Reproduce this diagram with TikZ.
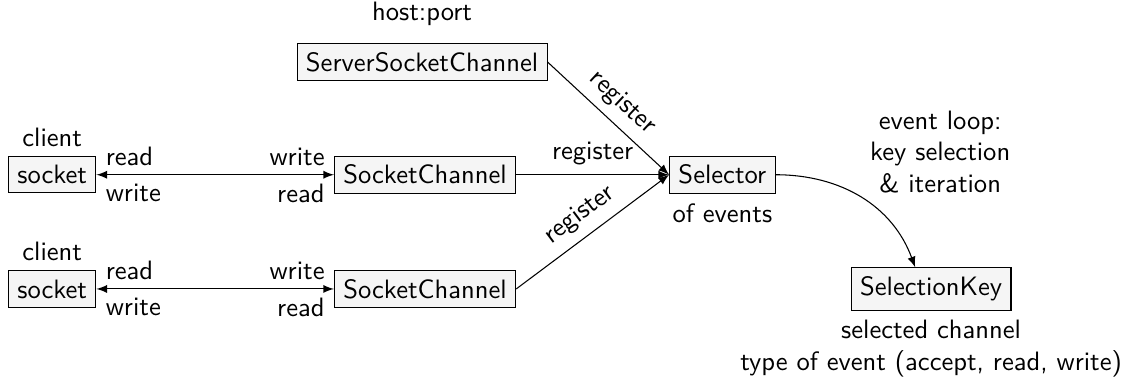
\documentclass[tikz,border=0pt]{standalone}
\usepackage{xcolor}
\usepackage{tikz}
\usetikzlibrary{positioning}
\usetikzlibrary{arrows}

\tikzset{
   box/.style={draw, fill=gray!8},
   conn/.style={-latex},
   duplex/.style={latex-latex}
}

\begin{document}
\begin{tikzpicture}[font=\sffamily]
   \useasboundingbox (0,0) rectangle (14.86,5.01);
   \node[box] (sock1) at (0.69,2.70) {socket};
   \node[box] (sock2) at (0.69,1.19) {socket};
   \node[box] (chan1) at (5.62,2.70) {SocketChannel};
   \node[box] (chan2) at (5.62,1.19) {SocketChannel};
   \node[box] (server) at (5.58,4.19) {ServerSocketChannel};
   \node[box] (sel) at (9.55,2.70) {Selector};
   \node[box] (key) at (12.31,1.19) {SelectionKey};
   \node (client1) [above=0pt of sock1] {client};
   \node (client2) [above=0pt of sock2] {client};
   \node (hostport) [above=3pt of server] {host:port};
   \node (events) [below=0pt of sel] {of events};
   \node (loop) [align=center] at (12.43,3.0) {event loop:\\key selection\\\& iteration};
   \node (keyinfo) [below=0pt of key, align=center] {selected channel\\type of event (accept, read, write)};
   \coordinate (keyin) at ([xshift=-6pt]key.north);
   \draw[duplex] (sock1) -- (chan1)
      node[above right, at start] {read} node[below right, at start] {write}
      node[above left, at end] {write} node[below left, at end] {read};
   \draw[duplex] (sock2) -- (chan2)
      node[above right, at start] {read} node[below right, at start] {write}
      node[above left, at end] {write} node[below left, at end] {read};
   \draw[conn] (chan1) -- node[above] {register} (sel);
   \draw[conn] (chan2.east) -- node[above, sloped] {register} (sel.west);
   \draw[conn] (server.east) -- node[above, sloped] {register} (sel.west);
   \draw[conn] (sel.east) to[out=0, in=110] (keyin);
\end{tikzpicture}
\end{document}
